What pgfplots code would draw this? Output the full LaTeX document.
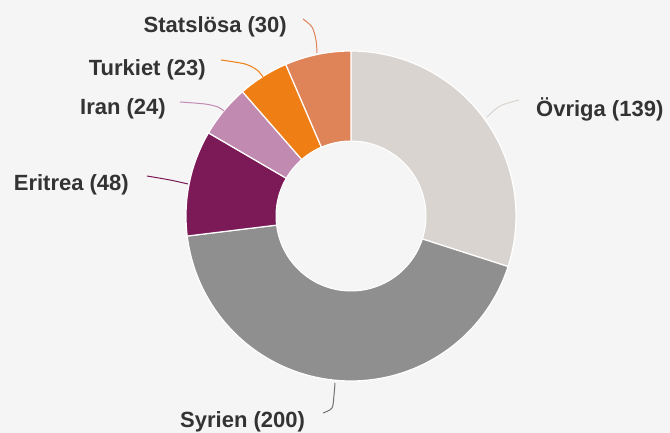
\documentclass[border=0pt]{standalone}
\usepackage{pgfplots}
\pgfplotsset{compat=1.18}
\usepackage{fontspec}
\setmainfont{Liberation Sans}
\definecolor{bg}{HTML}{F5F5F5}
\definecolor{cOvr}{HTML}{D9D4CF}
\definecolor{cSyr}{HTML}{8F8F8F}
\definecolor{cEri}{HTML}{7B1A57}
\definecolor{cIra}{HTML}{C18AB1}
\definecolor{cTur}{HTML}{EF7E14}
\definecolor{cSta}{HTML}{DF8359}
\definecolor{txt}{HTML}{333333}
\newcommand{\lab}[1]{{\fontsize{22bp}{26bp}\selectfont\bfseries\color{txt}#1}}
\begin{document}
\begin{tikzpicture}
\fill[bg] (0,0) rectangle (670bp,433bp);
\begin{axis}[at={(0,0)},anchor=south west,
  scale only axis, width=670bp, height=433bp,
  xmin=0, xmax=670, ymin=0, ymax=433,
  hide axis, clip=false]
% slices: Övriga 139, Syrien 200, Eritrea 48, Iran 24, Turkiet 23, Statslösa 30 (total 464)
\addplot[fill=cOvr, draw=white, line width=1.2bp, domain=90-139*360/464:90, samples=80] ({351+165*cos(x)},{217+165*sin(x)}) -- (axis cs:351,217) -- cycle;
\addplot[fill=cSyr, draw=white, line width=1.2bp, domain=90-339*360/464:90-139*360/464, samples=100] ({351+165*cos(x)},{217+165*sin(x)}) -- (axis cs:351,217) -- cycle;
\addplot[fill=cEri, draw=white, line width=1.2bp, domain=90-387*360/464:90-339*360/464, samples=40] ({351+165*cos(x)},{217+165*sin(x)}) -- (axis cs:351,217) -- cycle;
\addplot[fill=cIra, draw=white, line width=1.2bp, domain=90-411*360/464:90-387*360/464, samples=30] ({351+165*cos(x)},{217+165*sin(x)}) -- (axis cs:351,217) -- cycle;
\addplot[fill=cTur, draw=white, line width=1.2bp, domain=90-434*360/464:90-411*360/464, samples=30] ({351+165*cos(x)},{217+165*sin(x)}) -- (axis cs:351,217) -- cycle;
\addplot[fill=cSta, draw=white, line width=1.2bp, domain=90-464*360/464:90-434*360/464, samples=30] ({351+165*cos(x)},{217+165*sin(x)}) -- (axis cs:351,217) -- cycle;
% hole
\addplot[fill=bg, draw=white, line width=1bp, domain=0:360, samples=120] ({351+75*cos(x)},{217+75*sin(x)}) -- cycle;
% connectors
\addplot[cSta, line width=1bp, smooth] coordinates {(303,414) (312,406) (316,393) (317,380)};
\addplot[cTur, line width=1bp, smooth] coordinates {(221,373) (245,369) (257,363) (263,356)};
\addplot[cIra, line width=1bp, smooth] coordinates {(180,331) (205,329) (218,326) (224,322)};
\addplot[cEri, line width=1bp, smooth] coordinates {(147,257) (170,253) (188,249)};
\addplot[cSyr!80!black, line width=1bp, smooth] coordinates {(323,20) (332,25) (334,38) (335,50)};
\addplot[cOvr, line width=1bp, smooth] coordinates {(519,333) (500,327) (487,316)};
% labels
\node[anchor=east, inner sep=0pt] at (axis cs:287,406) {\lab{Statslösa (30)}};
\node[anchor=east, inner sep=0pt] at (axis cs:206,363) {\lab{Turkiet (23)}};
\node[anchor=east, inner sep=0pt] at (axis cs:166,324) {\lab{Iran (24)}};
\node[anchor=east, inner sep=0pt] at (axis cs:129,248) {\lab{Eritrea (48)}};
\node[anchor=west, inner sep=0pt] at (axis cs:180,11) {\lab{Syrien (200)}};
\node[anchor=west, inner sep=0pt] at (axis cs:536,324) {\lab{Övriga (139)}};
\end{axis}
\end{tikzpicture}
\end{document}
